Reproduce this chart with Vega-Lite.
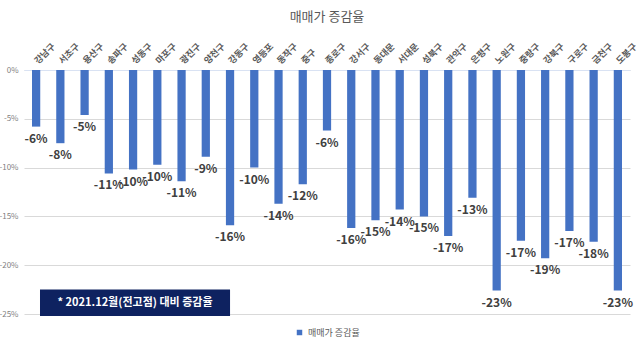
{
  "$schema": "https://vega.github.io/schema/vega-lite/v6.json",
  "width": 606,
  "height": 244,
  "autosize": {"type": "none"},
  "padding": {"left": 24, "top": 70, "right": 10, "bottom": 40},
  "background": "white",
  "config": {
    "font": "Noto Sans CJK KR",
    "view": {"stroke": null},
    "legend": {"layout": {"bottom": {"anchor": "middle"}}}
  },
  "title": {
    "text": "매매가 증감율",
    "fontSize": 13,
    "fontWeight": "normal",
    "color": "#595959",
    "anchor": "middle",
    "offset": 18
  },
  "datasets": {
    "gu": [
      {"gu": "강남구", "v": -5.8, "label": "-6%", "s": "매매가 증감율"},
      {"gu": "서초구", "v": -7.5, "label": "-8%", "s": "매매가 증감율"},
      {"gu": "용산구", "v": -4.6, "label": "-5%", "s": "매매가 증감율"},
      {"gu": "송파구", "v": -10.6, "label": "-11%", "s": "매매가 증감율"},
      {"gu": "성동구", "v": -10.2, "label": "-10%", "s": "매매가 증감율"},
      {"gu": "마포구", "v": -9.7, "label": "-10%", "s": "매매가 증감율"},
      {"gu": "광진구", "v": -11.4, "label": "-11%", "s": "매매가 증감율"},
      {"gu": "양천구", "v": -8.9, "label": "-9%", "s": "매매가 증감율"},
      {"gu": "강동구", "v": -15.9, "label": "-16%", "s": "매매가 증감율"},
      {"gu": "영등포", "v": -10.0, "label": "-10%", "s": "매매가 증감율"},
      {"gu": "동작구", "v": -13.7, "label": "-14%", "s": "매매가 증감율"},
      {"gu": "중구", "v": -11.7, "label": "-12%", "s": "매매가 증감율"},
      {"gu": "종로구", "v": -6.2, "label": "-6%", "s": "매매가 증감율"},
      {"gu": "강서구", "v": -16.2, "label": "-16%", "s": "매매가 증감율"},
      {"gu": "동대문", "v": -15.4, "label": "-15%", "s": "매매가 증감율"},
      {"gu": "서대문", "v": -14.3, "label": "-14%", "s": "매매가 증감율"},
      {"gu": "성북구", "v": -15.0, "label": "-15%", "s": "매매가 증감율"},
      {"gu": "관악구", "v": -17.0, "label": "-17%", "s": "매매가 증감율"},
      {"gu": "은평구", "v": -13.1, "label": "-13%", "s": "매매가 증감율"},
      {"gu": "노원구", "v": -22.6, "label": "-23%", "s": "매매가 증감율"},
      {"gu": "중랑구", "v": -17.5, "label": "-17%", "s": "매매가 증감율"},
      {"gu": "강북구", "v": -19.3, "label": "-19%", "s": "매매가 증감율"},
      {"gu": "구로구", "v": -16.5, "label": "-17%", "s": "매매가 증감율"},
      {"gu": "금천구", "v": -17.6, "label": "-18%", "s": "매매가 증감율"},
      {"gu": "도봉구", "v": -22.6, "label": "-23%", "s": "매매가 증감율"}
    ],
    "note": [
      {"x1": 0.66, "x2": 8.5, "y1": -22.5, "y2": -25.2, "xt": 4.58, "yt": -23.85, "t": "* 2021.12월(전고점) 대비 증감율"}
    ]
  },
  "layer": [
    {
      "data": {"name": "gu"},
      "encoding": {
        "x": {
          "field": "gu", "type": "nominal", "sort": null,
          "scale": {"paddingInner": 0.66, "paddingOuter": 0.33},
          "axis": {
            "orient": "top", "title": null, "labelAngle": -45, "labelAlign": "left",
            "labelBaseline": "middle",
            "labelFontSize": 9, "labelColor": "#595959", "labelFontWeight": "bold",
            "ticks": false, "domain": true, "domainColor": "#d9e2f3", "labelPadding": 8
          }
        },
        "y": {
          "field": "v", "type": "quantitative",
          "scale": {"domain": [-25, 0], "nice": false},
          "axis": {
            "title": null, "values": [0, -5, -10, -15, -20, -25],
            "labelExpr": "datum.value + '%'", "labelFontSize": 8, "labelColor": "#7f7f7f",
            "ticks": false, "domain": false, "gridColor": "#d9d9d9", "labelPadding": 6
          }
        }
      },
      "layer": [
        {
          "mark": {"type": "bar"},
          "encoding": {
            "color": {
              "field": "s", "type": "nominal",
              "scale": {"range": ["#4472C4"]},
              "legend": {
                "orient": "bottom", "direction": "horizontal", "title": null,
                "symbolType": "square", "symbolSize": 30, "labelFontSize": 9,
                "labelColor": "#595959", "offset": 14
              }
            }
          }
        },
        {
          "mark": {"type": "text", "baseline": "top", "dy": 7, "fontSize": 12, "fontWeight": "bold", "color": "#404040"},
          "encoding": {
            "text": {"field": "label"}
          }
        }
      ]
    },
    {
      "data": {"name": "note"},
      "layer": [
        {
          "mark": {"type": "rect", "color": "#0e2260", "clip": false},
          "encoding": {
            "x": {"field": "x1", "type": "quantitative", "scale": {"domain": [0, 25], "nice": false}, "axis": null},
            "x2": {"field": "x2"},
            "y": {"field": "y1", "type": "quantitative"},
            "y2": {"field": "y2"}
          }
        },
        {
          "mark": {"type": "text", "color": "white", "fontSize": 11, "fontWeight": "bold", "baseline": "middle"},
          "encoding": {
            "x": {"field": "xt", "type": "quantitative", "scale": {"domain": [0, 25], "nice": false}, "axis": null},
            "y": {"field": "yt", "type": "quantitative"},
            "text": {"field": "t"}
          }
        }
      ]
    }
  ],
  "resolve": {"scale": {"x": "independent"}, "axis": {"x": "independent"}}
}
